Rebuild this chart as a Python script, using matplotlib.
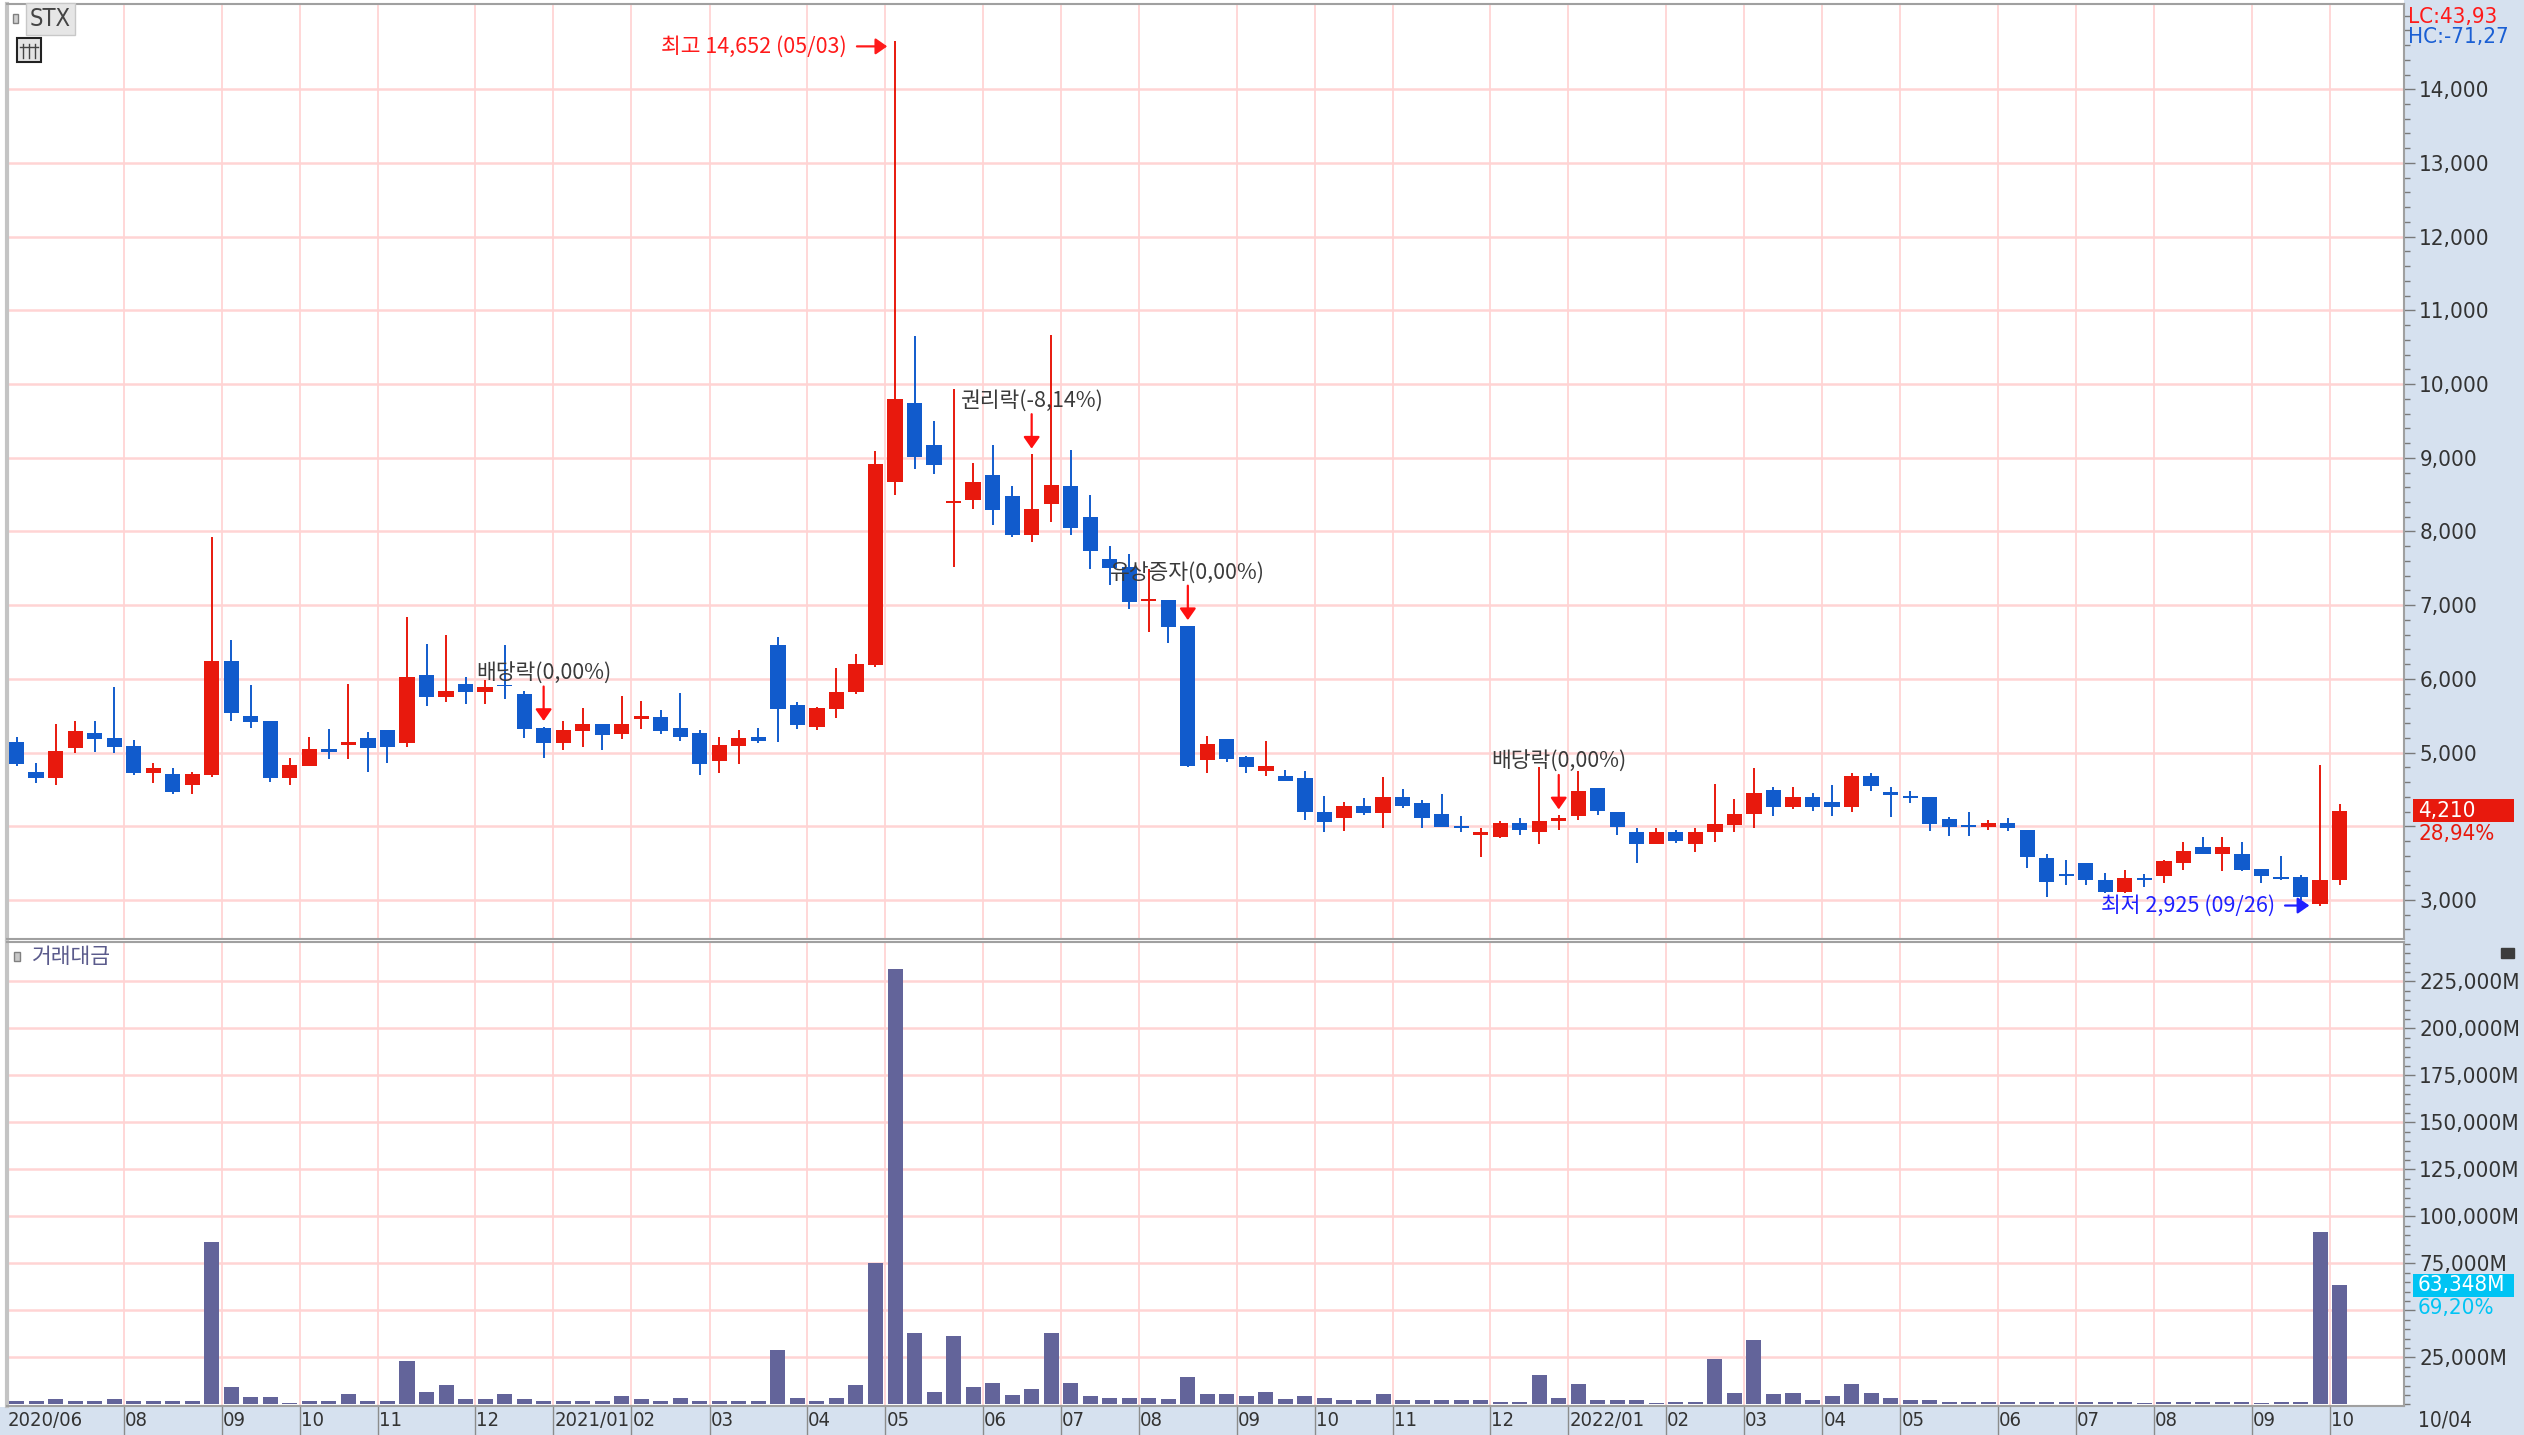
import matplotlib
matplotlib.use("Agg")
import matplotlib.pyplot as plt
import pandas as pd
from matplotlib import font_manager
from matplotlib.patches import Rectangle
from matplotlib.ticker import MultipleLocator
from matplotlib.transforms import IdentityTransform

# weekly candles, STX, 2020/06 ~ 2022/10
FIRST_WEEK = "2020-06-22"
LAST_DATE_LABEL = "10/04"

opens = [
    5145, 4741, 4655, 5059, 5263, 5195, 5095, 4728, 4714, 4560,
    4696, 6238, 5499, 5431, 4655, 4823, 5050, 5104, 5195, 5308,
    5127, 6057, 5748, 5934, 5821, 5921, 5794, 5340, 5127, 5295,
    5382, 5250, 5451, 5486, 5333, 5264, 4882, 5090, 5215, 6465,
    5646, 5347, 5590, 5819, 6188, 8667, 9743, 9174, 8382, 8424,
    8771, 8479, 7951, 8368, 8611, 8201, 7625, 7521, 7056, 7069,
    6717, 4893, 5188, 4934, 4753, 4689, 4653, 4190, 4109, 4281,
    4177, 4404, 4313, 4163, 4005, 3882, 3859, 4050, 3927, 4073,
    4141, 4526, 4190, 3927, 3755, 3927, 3755, 3927, 4018, 4163,
    4492, 4258, 4393, 4326, 4258, 4685, 4461, 4402, 4393, 4101,
    4020, 3989, 4047, 3953, 3575, 3351, 3503, 3270, 3112, 3292,
    3324, 3508, 3719, 3629, 3620, 3427, 3315, 3315, 2946, 3270,
]
highs = [
    5218, 4855, 5385, 5435, 5435, 5884, 5172, 4864, 4787, 4741,
    7930, 6528, 5912, 5431, 4932, 5218, 5317, 5934, 5286, 5308,
    6837, 6478, 6601, 6020, 5980, 6456, 5830, 5354, 5431, 5603,
    5390, 5771, 5701, 5576, 5812, 5313, 5215, 5313, 5333, 6563,
    5681, 5625, 6146, 6340, 9097, 14652, 10646, 9500, 9937, 8931,
    9174, 8618, 9049, 10660, 9104, 8493, 7799, 7694, 7486, 7069,
    6722, 5220, 5188, 4957, 5152, 4766, 4744, 4413, 4336, 4390,
    4667, 4508, 4358, 4435, 4145, 3982, 4073, 4109, 4798, 4154,
    4744, 4526, 4190, 3982, 3973, 3950, 3973, 4571, 4372, 4789,
    4537, 4537, 4447, 4564, 4730, 4730, 4537, 4483, 4393, 4124,
    4191, 4092, 4115, 3953, 3620, 3548, 3503, 3360, 3404, 3351,
    3548, 3787, 3854, 3854, 3787, 3427, 3598, 3337, 4829, 4303,
]
lows = [
    4819, 4583, 4556, 4991, 5014, 4991, 4696, 4583, 4438, 4438,
    4673, 5435, 5340, 4605, 4556, 4823, 4914, 4914, 4741, 4864,
    5082, 5626, 5680, 5658, 5658, 5726, 5204, 4923, 5036, 5082,
    5035, 5181, 5319, 5250, 5160, 4701, 4729, 4847, 5125, 5139,
    5319, 5313, 5472, 5799, 6167, 8493, 8854, 8785, 7521, 8306,
    8090, 7924, 7854, 8132, 7951, 7486, 7278, 6951, 6632, 6493,
    4798, 4730, 4871, 4730, 4676, 4608, 4086, 3918, 3941, 4154,
    3973, 4254, 3973, 3995, 3927, 3587, 3846, 3882, 3755, 3950,
    4086, 4154, 3882, 3497, 3755, 3778, 3655, 3782, 3918, 3973,
    4146, 4236, 4213, 4146, 4191, 4474, 4124, 4312, 3935, 3863,
    3863, 3953, 3935, 3440, 3036, 3202, 3202, 3099, 3090, 3171,
    3225, 3413, 3620, 3391, 3391, 3225, 3270, 3000, 2925, 3202,
]
closes = [
    4841, 4655, 5027, 5290, 5181, 5082, 4728, 4787, 4465, 4714,
    6238, 5535, 5422, 4655, 4832, 5050, 5014, 5150, 5059, 5082,
    6025, 5753, 5839, 5821, 5889, 5898, 5322, 5127, 5308, 5385,
    5243, 5382, 5493, 5299, 5208, 4847, 5104, 5194, 5160, 5590,
    5368, 5611, 5819, 6201, 8910, 9792, 9014, 8896, 8385, 8667,
    8285, 7951, 8306, 8632, 8042, 7729, 7500, 7049, 7083, 6708,
    4821, 5120, 4916, 4798, 4812, 4608, 4200, 4063, 4281, 4177,
    4404, 4277, 4109, 3995, 3982, 3927, 4050, 3950, 4073, 4109,
    4481, 4209, 3995, 3755, 3927, 3800, 3927, 4027, 4168, 4449,
    4267, 4402, 4258, 4267, 4685, 4551, 4429, 4384, 4025, 3989,
    3989, 4043, 3980, 3584, 3247, 3324, 3270, 3112, 3292, 3270,
    3530, 3665, 3629, 3719, 3404, 3324, 3288, 3036, 3265, 4210,
]
# 거래대금, million won
trade_value = [
    1773, 1773, 2837, 1773, 1773, 2837, 1773, 1773, 1773, 1773,
    86525, 9397, 3723, 3723, 887, 1773, 1773, 5674, 1773, 1773,
    23050, 6383, 10284, 2660, 2660, 5674, 2660, 1773, 1773, 1773,
    1773, 4610, 2660, 1773, 3546, 1773, 1773, 1773, 1773, 28723,
    3546, 1773, 3546, 10284, 75355, 231738, 38121, 6560, 36348, 9397,
    11170, 4787, 8333, 38121, 11170, 4610, 3546, 3546, 3546, 2660,
    14716, 5674, 5674, 4610, 6560, 2660, 4433, 3191, 2305, 2305,
    5319, 2305, 2305, 2305, 2305, 2305, 1418, 1418, 15426, 3191,
    10816, 2305, 2305, 2305, 532, 1418, 1418, 23936, 6206, 34043,
    5319, 6206, 2305, 4433, 10816, 6206, 3191, 2305, 2305, 1418,
    1418, 1418, 1418, 1418, 1418, 1418, 1418, 1418, 1418, 532,
    1418, 1418, 1418, 1418, 1418, 532, 1418, 1418, 91543, 63348,
]

price_ticks = [3000, 4000, 5000, 6000, 7000, 8000, 9000, 10000, 11000, 12000, 13000, 14000]
price_tick_labels = ["3,000", "", "5,000", "6,000", "7,000", "8,000", "9,000",
                     "10,000", "11,000", "12,000", "13,000", "14,000"]
value_ticks = [25000, 50000, 75000, 100000, 125000, 150000, 175000, 200000, 225000]
value_tick_labels = ["25,000M", "", "75,000M", "100,000M", "125,000M",
                     "150,000M", "175,000M", "200,000M", "225,000M"]

# (week index, event label)
events = [
    (27, "배당락(0,00%)"),
    (52, "권리락(-8,14%)"),
    (60, "유상증자(0,00%)"),
    (79, "배당락(0,00%)"),
]

UP = "#e8190d"
DOWN = "#115bcc"
BAR = "#63649a"
GRID = "#ffd4d4"
PANEL = "#d6e1ef"
AXIS_GRAY = "#a0a0a0"
TEXT = "#3a3a3a"

W, H = 2524, 1435

names = {f.name for f in font_manager.fontManager.ttflist}
NUM_FONT = "Liberation Sans Narrow" if "Liberation Sans Narrow" in names else "DejaVu Sans"
plt.rcParams["font.family"] = [NUM_FONT, "DejaVu Sans"]
plt.rcParams["font.stretch"] = "condensed"
KR = ["Noto Sans CJK KR", "DejaVu Sans"]


def px(x, y):
    # pixel position measured from the top-left corner -> figure fraction
    return x / W, 1 - y / H


def comma_dec(v):
    return f"{v:.2f}".replace(".", ",")


def main() -> None:
    weeks = pd.date_range(FIRST_WEEK, periods=len(closes), freq="7D")
    n = len(closes)
    xs = list(range(n))

    fig = plt.figure(figsize=(W / 100, H / 100), dpi=100)
    fig.patch.set_facecolor("white")

    # light blue bands behind the right value axis and the bottom date axis
    fig.patches.append(Rectangle(px(2404, 1435), 120 / W, 1, transform=fig.transFigure,
                                 facecolor=PANEL, edgecolor="none", zorder=-2))
    fig.patches.append(Rectangle(px(0, 1435), 1, 28 / H, transform=fig.transFigure,
                                 facecolor=PANEL, edgecolor="none", zorder=-2))

    ax = fig.add_axes([7 / W, 1 - 939 / H, 2397 / W, 935 / H])
    axv = fig.add_axes([7 / W, 1 - 1406 / H, 2397 / W, 464 / H])

    bounds = [i for i in range(4, n) if weeks[i].month != weeks[i - 1].month]

    for a in (ax, axv):
        a.set_xlim(-0.49, 122.3)
        a.set_facecolor("white")
        a.set_axisbelow(True)
        for b in bounds:
            a.axvline(b - 0.5, color=GRID, lw=1.3, zorder=0)
        a.yaxis.tick_right()
        a.tick_params(axis="y", which="major", length=8, width=1, color="#7a7a7a",
                      pad=3, labelsize=16, labelcolor="#333333")
        a.tick_params(axis="y", which="minor", length=4, width=1, color="#7a7a7a")
        a.grid(axis="y", which="major", color=GRID, lw=1.8)
        for side in ("left", "top", "right", "bottom"):
            a.spines[side].set_color(AXIS_GRAY)
            a.spines[side].set_linewidth(1.5)
        a.spines["left"].set_linewidth(3)
        a.spines["left"].set_color("#c4c4c4")

    # ---- price panel ----
    ax.set_ylim(2471, 15157)
    ax.set_yticks(price_ticks, price_tick_labels)
    ax.yaxis.set_minor_locator(MultipleLocator(200))
    ax.tick_params(axis="x", bottom=False, labelbottom=False)

    colors = [UP if c >= o else DOWN for o, c in zip(opens, closes)]
    bottoms = [min(o, c) for o, c in zip(opens, closes)]
    bodies = [max(abs(c - o), 25) for o, c in zip(opens, closes)]
    ax.vlines(xs, lows, highs, colors=colors, lw=1.4, zorder=3)
    ax.bar(xs, bodies, bottom=bottoms, width=0.78, color=colors, linewidth=0, zorder=4)

    for i, label in events:
        ax.annotate("", xy=(i, highs[i]), xytext=(0, 40), textcoords="offset pixels",
                    arrowprops=dict(arrowstyle="-|>,head_length=0.5,head_width=0.35",
                                    color="#ff1010", lw=1.6, shrinkA=0, shrinkB=4,
                                    mutation_scale=14), zorder=6)
        ax.annotate(label, xy=(i, highs[i]), xytext=(0, 53), textcoords="offset pixels",
                    ha="center", va="center", fontsize=15.5, color=TEXT, family=KR, zorder=6)

    imax = highs.index(max(highs))
    ax.annotate(f"최고 {highs[imax]:,} ({weeks[imax]:%m/%d})", xy=(imax - 0.4, highs[imax] - 70),
                xytext=(-40, 0), textcoords="offset pixels", ha="right", va="center",
                fontsize=15.5, color="#ff1a1a", family=KR,
                arrowprops=dict(arrowstyle="-|>,head_length=0.5,head_width=0.35",
                                color="#ff1a1a", lw=1.6, shrinkA=5, shrinkB=0,
                                mutation_scale=14))
    imin = lows.index(min(lows))
    ax.annotate(f"최저 {lows[imin]:,} ({weeks[imin]:%m/%d})", xy=(imin - 0.55, lows[imin]),
                xytext=(-34, 0), textcoords="offset pixels", ha="right", va="center",
                fontsize=15.5, color="#2020ff", family=KR,
                arrowprops=dict(arrowstyle="-|>,head_length=0.5,head_width=0.35",
                                color="#2020ff", lw=1.6, shrinkA=5, shrinkB=0,
                                mutation_scale=14))

    # ---- trade value panel ----
    axv.set_ylim(-800, 246000)
    axv.set_yticks(value_ticks, value_tick_labels)
    axv.yaxis.set_minor_locator(MultipleLocator(5000))
    axv.bar(xs, trade_value, width=0.77, color=BAR, linewidth=0, zorder=3)

    axv.set_xticks([b - 0.5 for b in bounds])
    axv.tick_params(axis="x", length=21, width=1, color="#8c8c8c", direction="out",
                    labelbottom=False)
    month_labels = [f"{weeks[b].year}/01" if weeks[b].month == 1 else f"{weeks[b].month:02d}"
                    for b in bounds]
    label_x = [-0.49] + [b - 0.5 for b in bounds]
    label_txt = [f"{weeks[0]:%Y/%m}"] + month_labels
    for x, t in zip(label_x, label_txt):
        axv.annotate(t, xy=(x, 14), xycoords=("data", "figure pixels"), xytext=(1, 0),
                     textcoords="offset pixels", ha="left", va="center", fontsize=14.5,
                     color="#333333", annotation_clip=False)
    fig.text(2418 / W, 14 / H, LAST_DATE_LABEL, ha="left", va="center",
             fontsize=15, color="#333333")

    # ---- value tags on the right axis ----
    def value_tag(a, value, text, sub, color):
        x0 = a.transAxes.transform((1, 0))[0]
        y0 = a.transData.transform((0, value))[1]
        fig.patches.append(Rectangle((x0 + 9, y0 - 11.5), 101, 23, transform=IdentityTransform(),
                                     facecolor=color, edgecolor="none", zorder=5))
        fig.text(x0 + 14, y0, text, transform=IdentityTransform(), color="white",
                 ha="left", va="center", fontsize=16, zorder=6)
        fig.text(x0 + 14, y0 - 23, sub, transform=IdentityTransform(), color=color,
                 ha="left", va="center", fontsize=16, zorder=6)

    change = (closes[-1] / closes[-2] - 1) * 100
    value_tag(ax, closes[-1], f"{closes[-1]:,}", comma_dec(change) + "%", UP)
    ratio = trade_value[-1] / trade_value[-2] * 100
    value_tag(axv, trade_value[-1], f"{trade_value[-1]:,}M", comma_dec(ratio) + "%", "#00c4f4")

    lo, hi = min(lows), max(highs)
    fig.text(*px(2408, 17), "LC:" + comma_dec((closes[-1] - lo) / lo * 100),
             color="#ff1a1a", ha="left", va="center", fontsize=16)
    fig.text(*px(2408, 37), "HC:" + comma_dec((closes[-1] - hi) / hi * 100),
             color="#1a5fd4", ha="left", va="center", fontsize=16)

    # ---- panel titles and small icons ----
    fig.patches.append(Rectangle(px(13, 23), 5 / W, 9 / H, transform=fig.transFigure,
                                 facecolor="#d0d0d0", edgecolor="#808080", lw=1, zorder=5))
    fig.text(*px(30, 19), "STX", ha="left", va="center", fontsize=17, color="#444444",
             bbox=dict(boxstyle="square,pad=0.15", fc="#e6e6e6", ec="#c8c8c8", lw=1))
    fig.patches.append(Rectangle(px(17, 62), 24 / W, 24 / H, transform=fig.transFigure,
                                 facecolor="#e4e4e4", edgecolor="#222222", lw=1.5, zorder=5))
    for gx in (23, 29, 35):
        fig.lines.append(plt.Line2D([gx / W, gx / W], [1 - 44 / H, 1 - 58 / H],
                                    transform=fig.transFigure, color="#444444", lw=1, zorder=6))
    fig.lines.append(plt.Line2D([20 / W, 38 / W], [1 - 47 / H, 1 - 47 / H],
                                transform=fig.transFigure, color="#444444", lw=1, zorder=6))

    fig.patches.append(Rectangle(px(14, 961), 6 / W, 9 / H, transform=fig.transFigure,
                                 facecolor="#c8c8c8", edgecolor="#808080", lw=1, zorder=5))
    fig.text(*px(32, 957), "거래대금", ha="left", va="center", fontsize=15.5,
             color="#5b5b8c", family=KR)
    fig.patches.append(Rectangle(px(2501, 958), 13 / W, 10 / H, transform=fig.transFigure,
                                 facecolor="#3c3c3c", edgecolor="#3c3c3c", lw=1, zorder=5))

    fig.savefig("out.png", dpi=100)


if __name__ == "__main__":
    main()
